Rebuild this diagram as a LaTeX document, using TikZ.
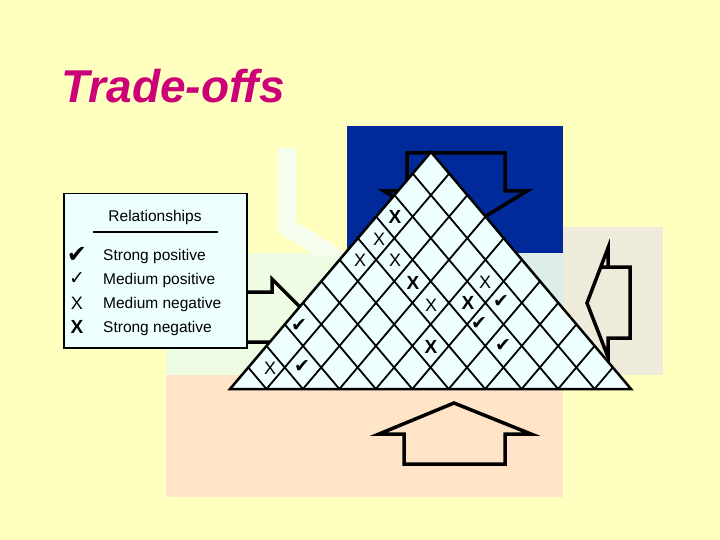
\documentclass[tikz,border=0pt]{standalone}
\usepackage{fontspec}
\setmainfont{Liberation Sans}
\newfontfamily\dv{DejaVu Sans}
\usetikzlibrary{calc}
\definecolor{bgy}{HTML}{FFFFC0}
\definecolor{blu}{HTML}{002A9A}
\definecolor{peach}{HTML}{FFE4C8}
\definecolor{pgreen}{HTML}{EEFCE4}
\definecolor{beige}{HTML}{EEEBDA}
\definecolor{lblue}{HTML}{DDEEE8}
\definecolor{cell}{HTML}{EEFFFF}
\definecolor{mag}{HTML}{CC0077}
\tikzset{arr/.style={draw=black,line width=3.5pt,line join=miter},
 mk/.style={inner sep=0pt,font=\fontsize{18}{18}\selectfont},
 mkb/.style={inner sep=0pt,font=\fontsize{19}{19}\selectfont\bfseries},
 ck/.style={inner sep=0pt,font=\dv\fontsize{19}{19}\selectfont},
 lg/.style={anchor=west,inner sep=0pt,font=\fontsize{15.5}{15.5}\selectfont}}
\begin{document}
\begin{tikzpicture}[x=1pt,y=-1pt]
\useasboundingbox (0,0) rectangle (720,540);
\fill[bgy] (0,0) rectangle (720,540);
\node[anchor=west,text=mag,font=\fontsize{46}{46}\selectfont\bfseries\itshape] (title) at (58,86) {Trade-offs};
% background panels
\fill[pgreen] (166,253) rectangle (563,375);
\fill[pgreen!60!white] (278,148) -- (296,148) -- (296,222) -- (345,252) -- (320,258) -- (278,232) -- cycle;
\fill[blu] (347,126) rectangle (563,253);
\fill[lblue] (500,253) rectangle (563,375);
\fill[beige] (563,227) rectangle (663,375);
\fill[peach] (166,375) rectangle (563,497);
% arrows
\draw[arr] (407,215) -- (407,153) -- (505,153) -- (505,191) -- (527,191) -- (455,235) -- (384,191) -- (407,191);
\draw[arr] (404,434) -- (404,464) -- (505,464) -- (505,434) -- (531,434) -- (454,403) -- (379,434) -- cycle;
\draw[arr] (600,267) -- (630,267) -- (630,338) -- (608,338) -- (608,357) -- (587,303) -- (608,248) -- (608,267);
\draw[arr] (240,292) -- (272,292) -- (272,279) -- (310,317) -- (272,355) -- (272,342) -- (240,342);
% legend
\node[draw=black,line width=1.5pt,fill=cell,minimum width=183pt,minimum height=154pt,anchor=north west,inner sep=0pt] (legend) at (63,193) {};
\node[inner sep=0pt,font=\fontsize{15.5}{15.5}\selectfont] (lt) at (155,217) {Relationships};
\draw[line width=1pt] (93,232) -- (218,232);
\node[ck,font=\dv\fontsize{24}{24}\selectfont\bfseries] (s1) at (77,255) {✔};
\node[ck,font=\dv\fontsize{19}{19}\selectfont] (s2) at (77,279) {✓};
\node[mk] (s3) at (77,303) {X};
\node[mkb] (s4) at (77,327) {X};
\node[lg] (l1) at (103,256) {Strong positive};
\node[lg] (l2) at (103,280) {Medium positive};
\node[lg] (l3) at (103,304) {Medium negative};
\node[lg] (l4) at (103,328) {Strong negative};
% pyramid
\coordinate (A) at (230,389);
\coordinate (B) at (631,389);
\coordinate (C) at (431,152);
\fill[cell] (A) -- (B) -- (C) -- cycle;
\foreach \i in {1,...,10}{
  \draw[line width=1.8pt] ($(A)!\i/11!(B)$) -- ($(B)!{1-\i/11}!(C)$);
  \draw[line width=1.8pt] ($(A)!\i/11!(B)$) -- ($(A)!\i/11!(C)$);
}
\draw[line width=2.5pt,line join=miter] (A) -- (B) -- (C) -- cycle;
% marks
\node[mkb] (m1) at (395,217) {X};
\node[mk] (m2) at (379,239) {X};
\node[mk] (m3) at (360,260) {X};
\node[mk] (m4) at (395,260) {X};
\node[mkb] (m5) at (413,283) {X};
\node[mk] (m6) at (485,282) {X};
\node[mk] (m7) at (431,305) {X};
\node[mkb] (m8) at (468,303) {X};
\node[ck] (c1) at (501,302) {✔};
\node[ck] (c2) at (299,326) {✔};
\node[ck] (c3) at (479,324) {✔};
\node[mkb] (m9) at (431,347) {X};
\node[ck] (c4) at (503,346) {✔};
\node[mk] (m10) at (270,368) {X};
\node[ck] (c5) at (302,367) {✔};
\end{tikzpicture}
\end{document}
